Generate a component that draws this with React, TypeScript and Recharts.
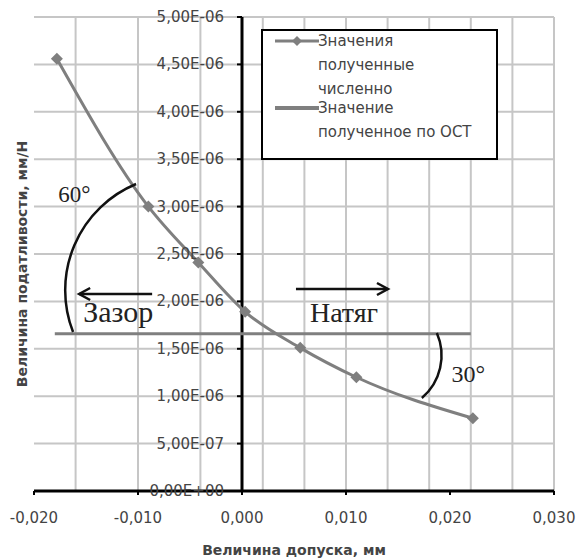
import {
  CartesianGrid,
  ComposedChart,
  Legend,
  Line,
  ReferenceDot,
  ReferenceLine,
  XAxis,
  YAxis,
} from "recharts";

// Numerically obtained compliance vs tolerance
const CALC_X = [-0.0178, -0.009, -0.0042, 0.0003, 0.0056, 0.011, 0.0222];
const CALC_Y = [4.56e-6, 3.0e-6, 2.41e-6, 1.89e-6, 1.51e-6, 1.2e-6, 0.767e-6];

// Value by OST (constant)
const OST_X = [-0.018, 0.022];
const OST_Y = [1.66e-6, 1.66e-6];

const X_DOMAIN = [-0.02, 0.03];
const X_TICKS = [-0.02, -0.01, 0, 0.01, 0.02, 0.03];
const X_MINOR = [
  -0.02, -0.018, -0.016, -0.014, -0.012, -0.01, -0.008, -0.006, -0.004, -0.002, 0, 0.002, 0.004,
  0.006, 0.008, 0.01, 0.012, 0.014, 0.016, 0.018, 0.02, 0.022, 0.024, 0.026, 0.028, 0.03,
];
const Y_TICKS = [0, 5e-7, 1e-6, 1.5e-6, 2e-6, 2.5e-6, 3e-6, 3.5e-6, 4e-6, 4.5e-6, 5e-6];

const SERIES_CALC = "Значения\nполученные\nчисленно";
const SERIES_OST = "Значение\nполученное по ОСТ";

const calcData = CALC_X.map((x, i) => ({ x, y: CALC_Y[i] }));
const ostData = OST_X.map((x, i) => ({ x, y: OST_Y[i] }));

const W = 576;
const H = 558;
const MARGIN = { top: 17, right: 22, bottom: 0, left: 0 };
const Y_AXIS_W = 34;

const SANS = "'DejaVu Sans', sans-serif";
const SERIF = "'Liberation Serif', 'Times New Roman', serif";
const TEXT = "#444";
const GRID = "#c6c6c6";
const SERIES_GREY = "#7f7f7f";

function fmtX(v: number) {
  return v.toFixed(3).replace(".", ",");
}

function fmtY(v: number) {
  if (v === 0) return "0,00E+00";
  const [m, e] = v.toExponential(2).split("e");
  const n = parseInt(e, 10);
  return m.replace(".", ",") + "E" + (n < 0 ? "-" : "+") + String(Math.abs(n)).padStart(2, "0");
}

function Diamond(props: any) {
  const { cx, cy } = props;
  if (cx == null || cy == null) return null;
  return <path d={`M${cx},${cy - 6}L${cx + 6},${cy}L${cx},${cy + 6}L${cx - 6},${cy}Z`} fill={SERIES_GREY} />;
}

function LegendBox({ payload }: any) {
  // numeric series first, like the reference
  const items = [...(payload ?? [])].sort(
    (a: any, b: any) => (a.value === SERIES_CALC ? 0 : 1) - (b.value === SERIES_CALC ? 0 : 1)
  );
  return (
    <div
      style={{
        width: 237,
        height: 131,
        boxSizing: "border-box",
        border: "2px solid #000",
        background: "#fff",
        fontFamily: SANS,
        fontSize: 15,
        color: TEXT,
      }}
    >
      {items.map((item: any, i: number) => {
        const isCalc = item.value === SERIES_CALC;
        return (
          <div key={i} style={{ position: "relative", paddingLeft: 55, marginTop: i === 0 ? -2 : -5, lineHeight: "24px", whiteSpace: "pre-line" }}>
            <svg width={44} height={24} style={{ position: "absolute", left: 12, top: 0 }}>
              <line x1={0} y1={12} x2={44} y2={12} stroke={SERIES_GREY} strokeWidth={isCalc ? 3 : 4} />
              {isCalc && <path d="M22,7L27,12L22,17L17,12Z" fill={SERIES_GREY} />}
            </svg>
            {item.value}
          </div>
        );
      })}
    </div>
  );
}

function YTitle(props: any) {
  const vb = props.viewBox ?? { x: 0, y: 17, width: 34, height: 474 };
  const x = vb.x + 22;
  const y = vb.y + vb.height / 2 + 10;
  return (
    <text
      x={x}
      y={y}
      transform={`rotate(-90, ${x}, ${y})`}
      textAnchor="middle"
      dominantBaseline="central"
      fontFamily={SANS}
      fontSize={14}
      fontWeight="bold"
      fill={TEXT}
    >
      Величина податливости,  мм/Н
    </text>
  );
}

export default function App() {
  return (
    <div style={{ position: "absolute", left: 0, top: 0, background: "#fff" }}>
      <ComposedChart width={W} height={H} margin={MARGIN}>
        <CartesianGrid stroke={GRID} strokeWidth={2} verticalValues={X_MINOR} />
        <XAxis
          type="number"
          dataKey="x"
          domain={X_DOMAIN}
          ticks={X_TICKS}
          allowDataOverflow
          tickFormatter={fmtX}
          height={67}
          axisLine={{ stroke: "#000", strokeWidth: 3 }}
          tickLine={{ stroke: "#000", strokeWidth: 2 }}
          tickSize={4}
          tickMargin={17}
          tick={{ fill: TEXT, fontSize: 15, fontFamily: SANS }}
          label={{
            value: "Величина допуска,  мм",
            position: "insideBottom",
            offset: 3,
            fill: TEXT,
            fontSize: 14,
            fontWeight: "bold",
            fontFamily: SANS,
          }}
        />
        <YAxis
          type="number"
          dataKey="y"
          domain={[0, 5e-6]}
          ticks={Y_TICKS}
          interval={0}
          width={Y_AXIS_W}
          tick={{ fill: "transparent", fontSize: 1 }}
          tickFormatter={() => ""}
          axisLine={false}
          tickLine={false}
          label={{ content: YTitle }}
        />
        {/* y tick marks and y tick labels along the x = 0 axis */}
        {Y_TICKS.map((v) => (
          <ReferenceDot
            key={v}
            x={0}
            y={v}
            ifOverflow="visible"
            shape={(p: any) => (
              <g>
                <line x1={p.cx - 5} y1={p.cy} x2={p.cx} y2={p.cy} stroke="#000" strokeWidth={2} />
                <text
                  x={p.cx - 18}
                  y={p.cy}
                  textAnchor="end"
                  dominantBaseline="central"
                  fontFamily={SANS}
                  fontSize={15}
                  fill={TEXT}
                >
                  {fmtY(v)}
                </text>
              </g>
            )}
          />
        ))}
        <ReferenceLine x={0} stroke="#000" strokeWidth={3} />
        <Line
          data={calcData}
          dataKey="y"
          name={SERIES_CALC}
          type="monotone"
          stroke={SERIES_GREY}
          strokeWidth={3}
          dot={<Diamond />}
          activeDot={false}
          isAnimationActive={false}
        />
        <Line
          data={ostData}
          dataKey="y"
          name={SERIES_OST}
          stroke={SERIES_GREY}
          strokeWidth={3}
          dot={false}
          activeDot={false}
          isAnimationActive={false}
        />
        {/* 60° angle mark and "Зазор" arrow */}
        <ReferenceDot
          x={-0.00586}
          y={2.12e-6}
          ifOverflow="visible"
          shape={(p: any) => (
            <path
              d={`M${p.cx - 45},${p.cy - 106} A115,115 0 0 0 ${p.cx - 108},${p.cy + 42}`}
              fill="none"
              stroke="#111"
              strokeWidth={2.5}
            />
          )}
        />
        <ReferenceDot
          x={-0.01768}
          y={3.05e-6}
          ifOverflow="visible"
          shape={(p: any) => (
            <text x={p.cx} y={p.cy} fontFamily={SERIF} fontSize={23} fill="#222">
              60°
            </text>
          )}
        />
        <ReferenceDot
          x={-0.01566}
          y={2.078e-6}
          ifOverflow="visible"
          shape={(p: any) => (
            <g stroke="#111" strokeWidth={2.5} fill="none">
              <line x1={p.cx} y1={p.cy} x2={p.cx + 73} y2={p.cy} />
              <polyline points={`${p.cx + 11},${p.cy - 6} ${p.cx},${p.cy} ${p.cx + 11},${p.cy + 6}`} />
            </g>
          )}
        />
        <ReferenceDot
          x={-0.01527}
          y={1.786e-6}
          ifOverflow="visible"
          shape={(p: any) => (
            <text x={p.cx} y={p.cy} fontFamily={SERIF} fontSize={30} fill="#222">
              Зазор
            </text>
          )}
        />
        {/* "Натяг" arrow */}
        <ReferenceDot
          x={0.00519}
          y={2.131e-6}
          ifOverflow="visible"
          shape={(p: any) => (
            <g stroke="#111" strokeWidth={2.5} fill="none">
              <line x1={p.cx} y1={p.cy} x2={p.cx + 92} y2={p.cy} />
              <polyline points={`${p.cx + 81},${p.cy - 6} ${p.cx + 92},${p.cy} ${p.cx + 81},${p.cy + 6}`} />
            </g>
          )}
        />
        <ReferenceDot
          x={0.00653}
          y={1.786e-6}
          ifOverflow="visible"
          shape={(p: any) => (
            <text x={p.cx} y={p.cy} fontFamily={SERIF} fontSize={28} fill="#222">
              Натяг
            </text>
          )}
        />
        {/* 30° angle mark */}
        <ReferenceDot
          x={0.01393}
          y={1.382e-6}
          ifOverflow="visible"
          shape={(p: any) => (
            <path
              d={`M${p.cx + 50},${p.cy - 27} A56,56 0 0 1 ${p.cx + 35},${p.cy + 38}`}
              fill="none"
              stroke="#111"
              strokeWidth={2.5}
            />
          )}
        />
        <ReferenceDot
          x={0.02014}
          y={1.153e-6}
          ifOverflow="visible"
          shape={(p: any) => (
            <text x={p.cx} y={p.cy} fontFamily={SERIF} fontSize={24} fill="#222">
              30°
            </text>
          )}
        />
        <Legend
          layout="vertical"
          align="center"
          verticalAlign="middle"
          content={<LegendBox />}
          wrapperStyle={{ left: 261, top: 29, width: 237, height: 131 }}
        />
      </ComposedChart>
    </div>
  );
}
